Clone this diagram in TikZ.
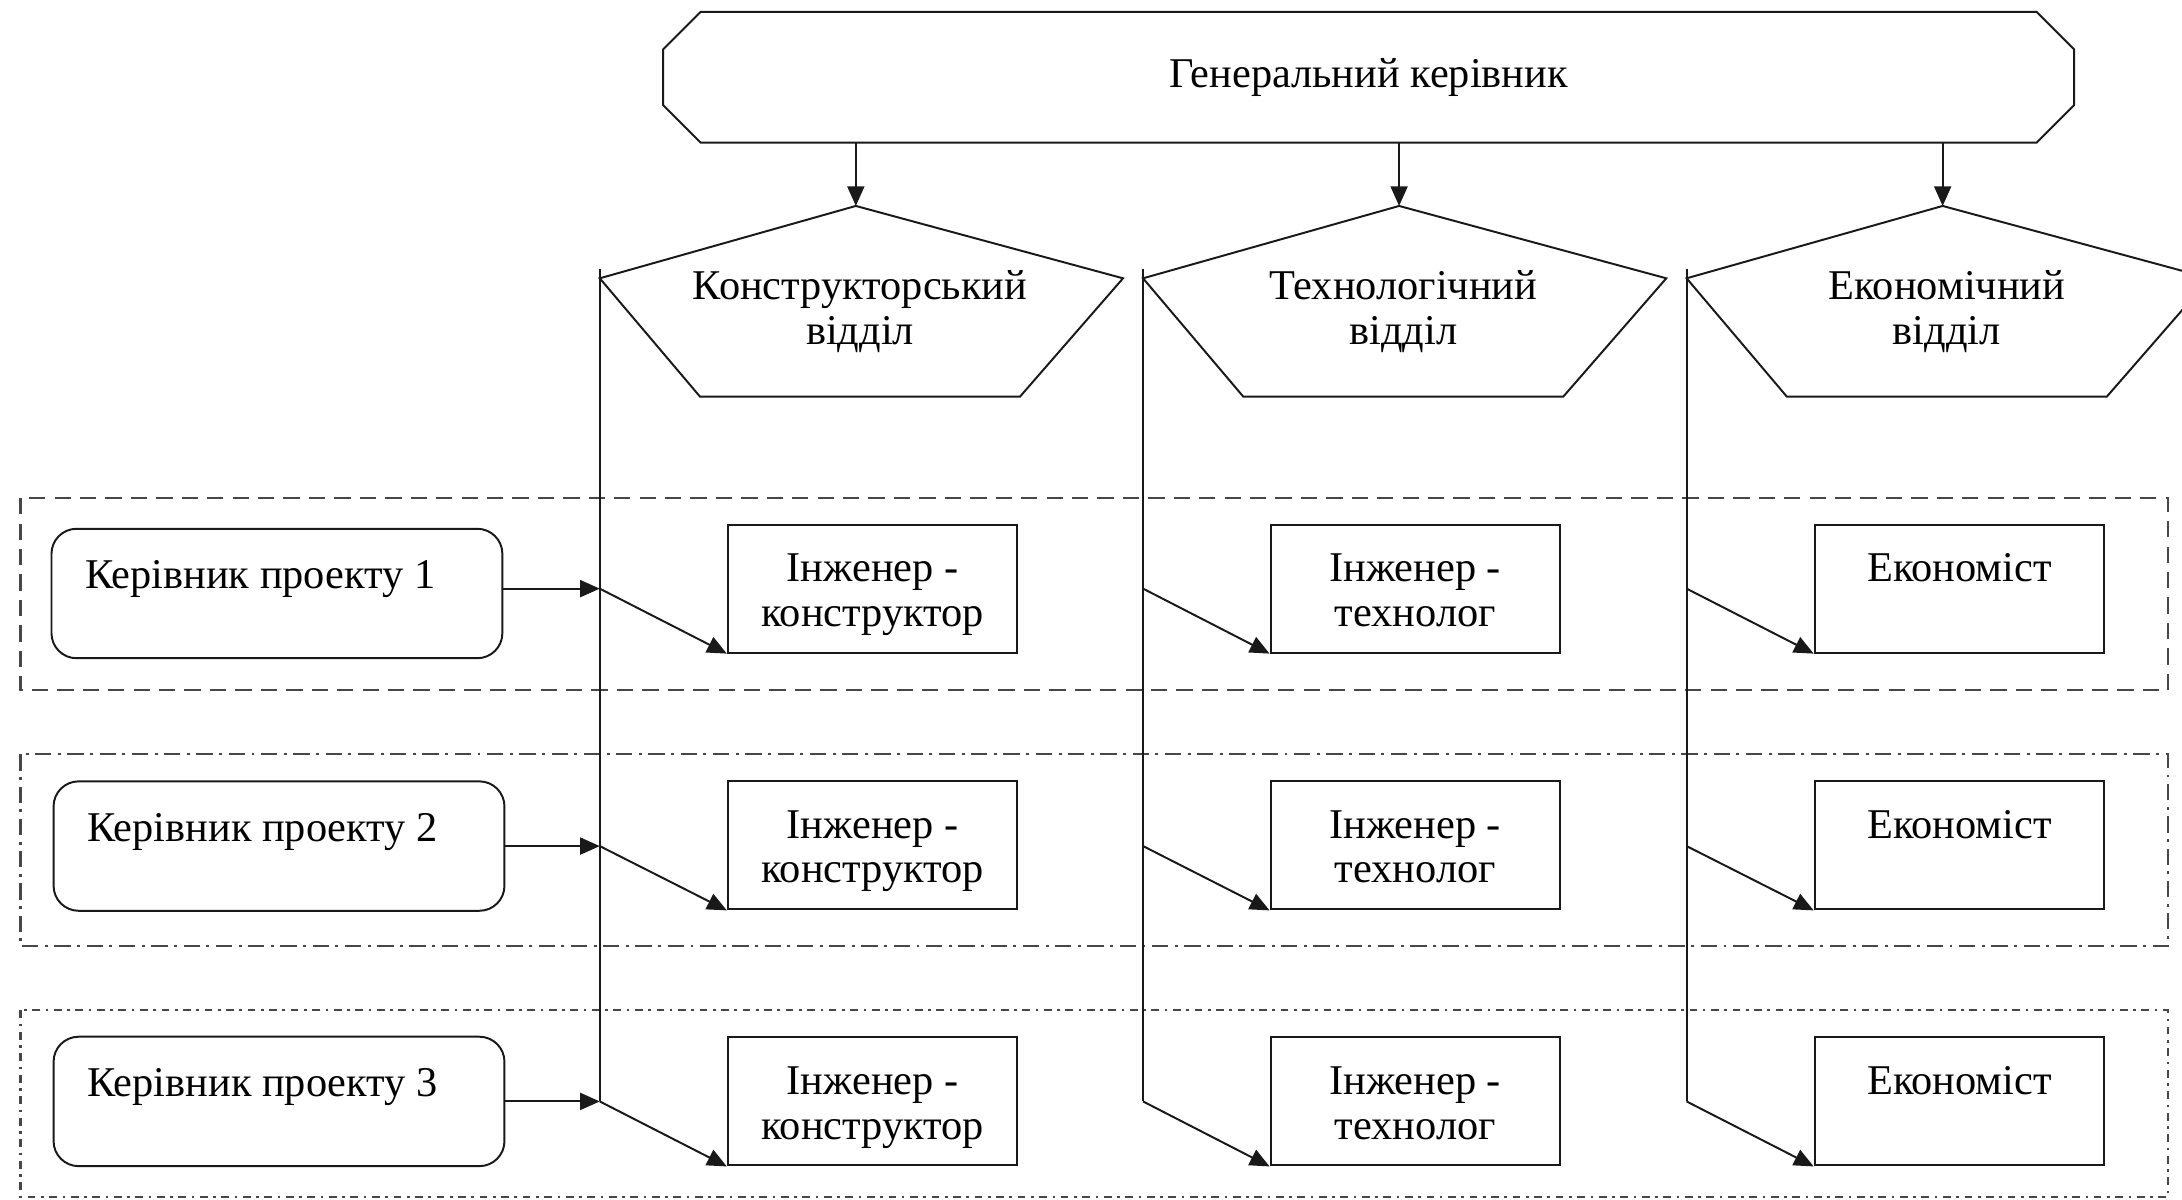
\documentclass[tikz,border=0pt]{standalone}
\usepackage{fontspec}
\setmainfont{Liberation Serif}
\usetikzlibrary{arrows.meta}
\newcommand\diagfont{\fontsize{13}{13.6}\selectfont}
\newcommand\boxtext[1]{\raisebox{-2pt}[\height][\depth]{\begin{tabular}{@{}c@{}}#1\end{tabular}}}
\newcommand\mgrtext[1]{\raisebox{4.3pt}[\height][\depth]{#1}\hspace{10.2pt}}
\tikzset{
  ln/.style={line width=0.6pt, draw=black!90},
  arr/.style={ln, -{Triangle[length=6pt,width=5.2pt]}},
  txt/.style={align=center, inner sep=0pt, font=\diagfont, text=black},
  engbox/.style={txt, ln, draw, minimum width=3.12cm, minimum height=1.38cm},
  mgrbox/.style={txt, ln, draw, rounded corners=0.27cm, minimum width=4.86cm,
    minimum height=1.395cm},
  topbox/.style={txt, minimum width=15.195cm, minimum height=1.395cm},
  grpA/.style={line width=0.65pt, draw=black!72, dash pattern=on 5pt off 2.8pt},
  grpB/.style={line width=0.65pt, draw=black!72, dash pattern=on 5pt off 2pt on 0.9pt off 2pt},
  grpC/.style={line width=0.65pt, draw=black!72, dash pattern=on 2.4pt off 1.7pt on 0.8pt off 1.7pt},
}
\begin{document}
\begin{tikzpicture}[x=0.015cm,y=-0.015cm]
\useasboundingbox (0,0) rectangle (1568,862);
\clip (0,0) rectangle (1568,862);

% group frames
\draw[grpA] (14.7,358) rectangle (1558,496);
\draw[grpB] (14.7,542) rectangle (1558,680);
\draw[grpC] (14.7,726) rectangle (1558,860);

% top node
\node[topbox] (gen) at (983.5,55.5) {Генеральний керівник};
\draw[ln] ([xshift=0.405cm]gen.north west) -- ([xshift=-0.405cm]gen.north east)
  -- ([yshift=-0.405cm]gen.north east) -- ([yshift=0.405cm]gen.south east)
  -- ([xshift=-0.405cm]gen.south east) -- ([xshift=0.405cm]gen.south west)
  -- ([yshift=0.405cm]gen.south west) -- ([yshift=-0.405cm]gen.north west) -- cycle;

% departments
\foreach \i/\a/\name in {1/615/{Конструкторський\\відділ}, 2/1005.4/{Технологічний\\відділ}, 3/1396/{Економічний\\відділ}}{
  \coordinate (p\i) at (\a,148);
  \draw[ln] (p\i) -- (\a+192,200) -- (\a+118,285) -- (\a-112,285) -- (\a-184,200) -- cycle;
  \node[txt] (d\i) at (\a+3,224) {\name};
  \draw[arr] (gen.south -| p\i) -- (p\i);
  \coordinate (vt\i) at (\a-184,193);
  \coordinate (j\i1) at (\a-184,423);
  \coordinate (j\i2) at (\a-184,608);
  \coordinate (j\i3) at (\a-184,791.5);
  \draw[ln] (vt\i) -- (j\i3);
}

% project managers
\node[mgrbox] (m1) at (199,426.5) {\mgrtext{Керівник проекту 1}};
\node[mgrbox] (m2) at (200.5,608) {\mgrtext{Керівник проекту 2}};
\node[mgrbox] (m3) at (200.5,791.5) {\mgrtext{Керівник проекту 3}};
\foreach \r in {1,2,3}{
  \draw[arr] (m\r.east |- j1\r) -- (j1\r);
}

% staff
\foreach \r/\y in {1/423,2/607.5,3/791.5}{
  \node[engbox] (e1\r) at (627,\y) {\boxtext{Інженер -\\конструктор}};
  \node[engbox] (e2\r) at (1017,\y) {\boxtext{Інженер -\\технолог}};
  \node[engbox] (e3\r) at (1408,\y) {\boxtext{Економіст\\\mbox{}}};
  \foreach \c in {1,2,3}{
    \draw[arr] (j\c\r) -- (e\c\r.south west);
  }
}
\end{tikzpicture}
\end{document}
